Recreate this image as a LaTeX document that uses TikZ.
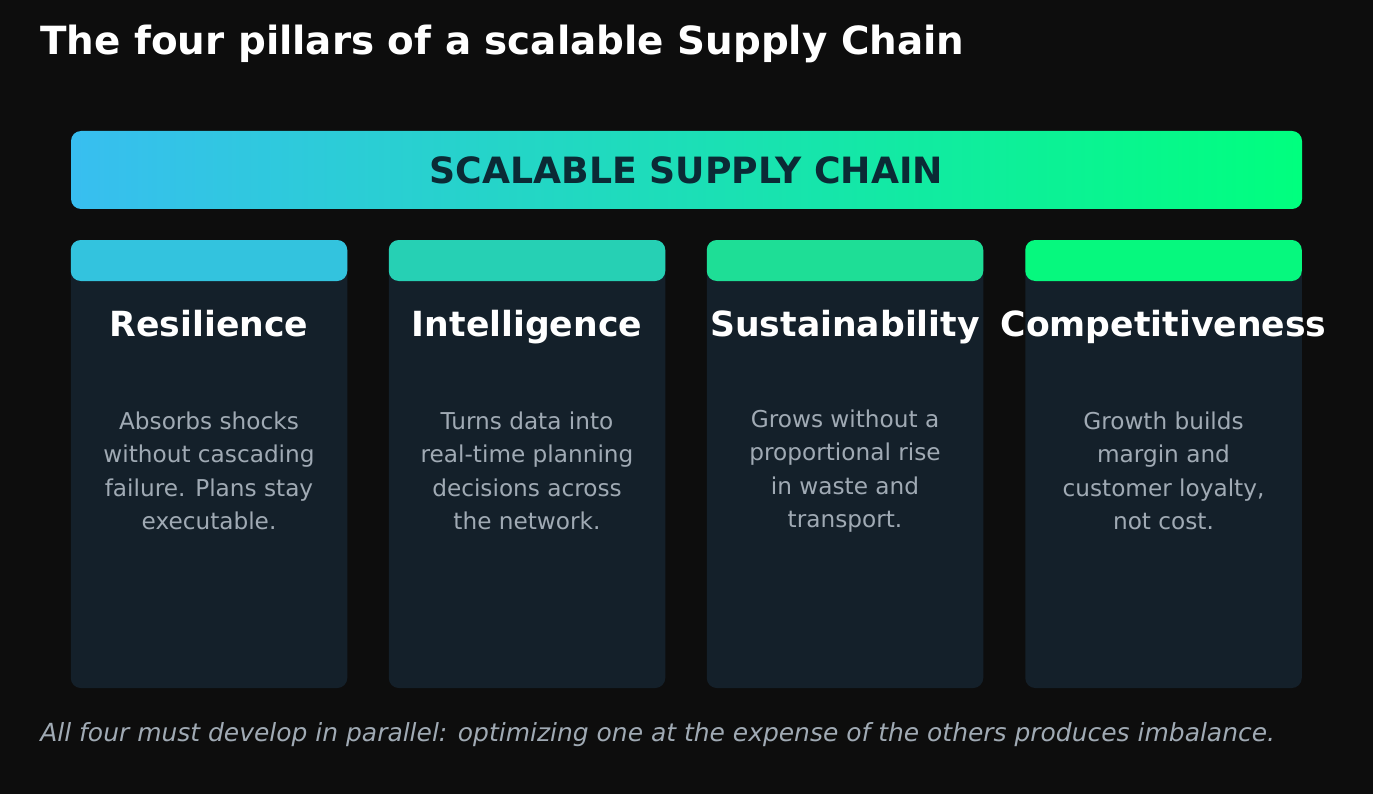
\documentclass[tikz,border=0pt]{standalone}
\usepackage{fontspec}
\setmainfont{DejaVu Sans}
\usepackage{tikz}
\usepackage{xcolor}
\usetikzlibrary{positioning}
\definecolor{pagebg}{HTML}{0D0D0D}
\definecolor{cardbg}{HTML}{14202A}
\definecolor{skycyan}{HTML}{38BEF0}
\definecolor{springgreen}{HTML}{00FF7E}
\definecolor{headA}{HTML}{33C3DE}
\definecolor{headB}{HTML}{26D0B4}
\definecolor{headC}{HTML}{1EDE96}
\definecolor{headD}{HTML}{06F87E}
\definecolor{bannerink}{HTML}{0B2A35}
\definecolor{mutedgray}{HTML}{A0AAB4}

\begin{document}
\begin{tikzpicture}[
    card/.style={fill=cardbg,rounded corners=0.2cm,minimum width=5.53cm,
      minimum height=8.96cm,inner sep=0pt},
    headbar/.style={rounded corners=0.2cm,minimum width=5.53cm,
      minimum height=0.82cm,inner sep=0pt},
    pillar/.style={text=white,text height=0.76em,text depth=0.24em,
      font=\fontsize{19.7}{23}\selectfont\bfseries},
    blurb/.style={text=mutedgray,align=center,
      font=\fontsize{13.2}{19.1}\selectfont}
  ]
    \useasboundingbox[fill=pagebg] (0,0) rectangle (27.46,-15.88);

    % heading
    \node[anchor=west,inner sep=0pt,text=white,
      font=\fontsize{22.1}{27}\selectfont\bfseries]
      (heading) at (0.80,-0.88) {The four pillars of a scalable Supply Chain};

    % gradient banner
    \shade[left color=skycyan,right color=springgreen,rounded corners=0.2cm]
      (1.42,-2.62) rectangle (26.04,-4.18);
    \node[text=bannerink,font=\fontsize{20.6}{24}\selectfont\bfseries]
      (banner) at (13.73,-3.40) {SCALABLE SUPPLY CHAIN};

    % the four cards
    \node[card] (res) at (4.18,-9.28) {};
    \node[card] (int) at (10.54,-9.28) {};
    \node[card] (sus) at (16.90,-9.28) {};
    \node[card] (com) at (23.27,-9.28) {};

    \node[headbar,fill=headA,anchor=north] (resbar) at (res.north) {};
    \node[headbar,fill=headB,anchor=north] (intbar) at (int.north) {};
    \node[headbar,fill=headC,anchor=north] (susbar) at (sus.north) {};
    \node[headbar,fill=headD,anchor=north] (combar) at (com.north) {};

    \node[pillar] (restitle) at (4.18,-6.64) {Resilience};
    \node[pillar] (inttitle) at (10.54,-6.64) {Intelligence};
    \node[pillar] (sustitle) at (16.90,-6.64) {Sustainability};
    \node[pillar] (comtitle) at (23.27,-6.64) {Competitiveness};

    \node[blurb] (restext) at (4.18,-9.42)
      {Absorbs shocks\\without cascading\\failure. Plans stay\\executable.};
    \node[blurb] (inttext) at (10.54,-9.42)
      {Turns data into\\real-time planning\\decisions across\\the network.};
    \node[blurb] (sustext) at (16.90,-9.42)
      {Grows without a\\proportional rise\\in waste and\\transport.};
    \node[blurb] (comtext) at (23.27,-9.42)
      {Growth builds\\margin and\\customer loyalty,\\not cost.};

    % footnote
    \node[anchor=west,inner sep=0pt,text=mutedgray,
      font=\fontsize{14.2}{17}\selectfont\itshape]
      (footer) at (0.80,-14.70)
      {All four must develop in parallel: optimizing one at the expense of the others produces imbalance.};
  \end{tikzpicture}
\end{document}
